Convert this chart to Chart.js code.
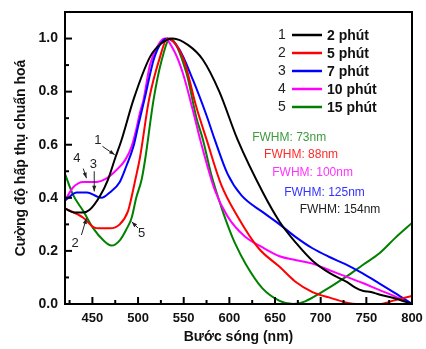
<!DOCTYPE html>
<html>
<head>
<meta charset="utf-8">
<script src="https://cdn.jsdelivr.net/npm/chart.js@4.4.1/dist/chart.umd.min.js"></script>
<style>
  html, body { margin: 0; padding: 0; background: #fff; }
  #wrap { width: 426px; height: 349px; }
</style>
</head>
<body>
<div id="wrap"><canvas id="chart"></canvas></div>
<script>
// series data (wavelength nm, normalised absorbance)
const wl1  = [420, 430, 440, 447, 458, 467, 475, 482, 495, 513, 525, 538, 555, 571, 589, 609, 637, 655, 673, 691, 710, 728, 738, 746, 755, 764, 782, 800];
const abs1 = [0.36, 0.345, 0.345, 0.355, 0.405, 0.468, 0.55, 0.619, 0.77, 0.93, 0.98, 1.0, 0.975, 0.92, 0.80, 0.619, 0.418, 0.31, 0.23, 0.163, 0.116, 0.084, 0.062, 0.05, 0.045, 0.036, 0.021, 0.0];

const wl2  = [420, 440, 451, 458, 469, 480, 489, 494, 497, 502, 512, 524, 532, 550, 564, 575, 591, 609, 632, 655, 672, 691, 709, 739, 764, 782, 800];
const abs2 = [0.36, 0.325, 0.29, 0.285, 0.285, 0.30, 0.35, 0.42, 0.468, 0.55, 0.77, 0.93, 1.0, 0.92, 0.74, 0.62, 0.45, 0.33, 0.21, 0.14, 0.085, 0.045, 0.025, 0.0, 0.0, 0.015, 0.03];

const wl3  = [420, 433, 444, 455, 460, 469, 480, 487, 495, 500, 507, 518, 532, 545, 560, 575, 584, 598, 613, 637, 655, 672, 691, 709, 727, 746, 764, 782, 800];
const abs3 = [0.39, 0.42, 0.42, 0.405, 0.40, 0.42, 0.46, 0.518, 0.594, 0.669, 0.77, 0.93, 1.0, 0.96, 0.845, 0.71, 0.619, 0.49, 0.41, 0.345, 0.30, 0.254, 0.21, 0.178, 0.15, 0.115, 0.078, 0.04, 0.0];

const wl4  = [420, 429, 440, 455, 464, 475, 486, 493, 498, 502, 506, 513, 522, 529, 540, 549, 560, 568, 584, 598, 617, 635, 655, 672, 691, 709, 728, 746, 764, 782, 800];
const abs4 = [0.39, 0.44, 0.46, 0.46, 0.47, 0.50, 0.543, 0.594, 0.657, 0.72, 0.77, 0.90, 0.975, 1.0, 0.95, 0.87, 0.73, 0.62, 0.43, 0.33, 0.254, 0.216, 0.18, 0.166, 0.152, 0.128, 0.103, 0.079, 0.053, 0.028, 0.0];

const wl5  = [420, 429, 440, 451, 462, 471, 480, 487, 493, 498, 504, 508, 517, 526, 535, 553, 564, 571, 580, 591, 600, 606, 618, 636, 655, 670, 683, 699, 728, 746, 764, 782, 800];
const abs5 = [0.49, 0.41, 0.35, 0.285, 0.24, 0.22, 0.24, 0.28, 0.325, 0.40, 0.47, 0.55, 0.77, 0.92, 1.0, 0.87, 0.70, 0.62, 0.49, 0.367, 0.28, 0.23, 0.15, 0.06, 0.012, 0.0, 0.01, 0.04, 0.103, 0.147, 0.19, 0.25, 0.305];

const seriesNames = ['2 phút', '5 phút', '7 phút', '10 phút', '15 phút'];
const seriesNums = ['1', '2', '3', '4', '5'];
const seriesColors = ['#000000', '#ff0000', '#0000ff', '#ff00ff', '#008000'];

const xTicks = [450, 500, 550, 600, 650, 700, 750, 800];
const yTicks = [0.0, 0.2, 0.4, 0.6, 0.8, 1.0];

// FWHM notes: text, x (nm), y (abs), colour
const fwhmTexts = ['FWHM: 73nm', 'FWHM: 88nm', 'FWHM: 100nm', 'FWHM: 125nm', 'FWHM: 154nm'];
const fwhmX = [625, 638, 647, 660, 677];
const fwhmY = [0.628, 0.562, 0.494, 0.418, 0.357];
const fwhmColors = ['#3d9a3d', '#ff2a2a', '#ff33ff', '#3333ff', '#222222'];

// curve markers: label pos and arrow from/to, in data units
const markLabel = ['1', '4', '3', '2', '5'];
const markPos = [[456, 0.615], [433, 0.55], [451, 0.525], [431, 0.229], [504, 0.267]];
const markFrom = [[461, 0.594], [440, 0.51], [452, 0.50], [438, 0.26], [500, 0.286]];
const markTo = [[474.5, 0.562], [443.5, 0.474], [452, 0.424], [443.5, 0.323], [493, 0.31]];

const allWl = [wl1, wl2, wl3, wl4, wl5];
const allAbs = [abs1, abs2, abs3, abs4, abs5];

const datasets = seriesNames.map((name, i) => ({
    label: name,
    data: allWl[i].map((x, k) => ({ x: x, y: allAbs[i][k] })),
    borderColor: seriesColors[i],
    borderWidth: 2,
    pointRadius: 0,
    fill: false,
    cubicInterpolationMode: 'monotone'
}));

function arrow(ctx, x1, y1, x2, y2) {
    const a = Math.atan2(y2 - y1, x2 - x1);
    ctx.beginPath();
    ctx.moveTo(x1, y1);
    ctx.lineTo(x2, y2);
    ctx.stroke();
    ctx.beginPath();
    ctx.moveTo(x2, y2);
    ctx.lineTo(x2 - 6 * Math.cos(a - 0.35), y2 - 6 * Math.sin(a - 0.35));
    ctx.lineTo(x2 - 6 * Math.cos(a + 0.35), y2 - 6 * Math.sin(a + 0.35));
    ctx.closePath();
    ctx.fill();
}

const decor = {
    id: 'decor',
    afterDatasetsDraw(chart) {
        const ctx = chart.ctx;
        const area = chart.chartArea;
        const xs = chart.scales.x, ys = chart.scales.y;
        ctx.save();

        // frame
        ctx.strokeStyle = '#000';
        ctx.lineWidth = 2;
        ctx.strokeRect(area.left, area.top, area.right - area.left, area.bottom - area.top);

        // inward ticks, bottom and left
        ctx.lineWidth = 2;
        for (let v = 425; v < 800; v += 25) {
            const px = xs.getPixelForValue(v);
            const len = (v % 50 === 0) ? 7 : 4;
            ctx.beginPath();
            ctx.moveTo(px, area.bottom);
            ctx.lineTo(px, area.bottom - len);
            ctx.stroke();
        }
        for (let k = 1; k <= 10; k++) {
            const py = ys.getPixelForValue(k / 10);
            const len = (k % 2 === 0) ? 7 : 4;
            ctx.beginPath();
            ctx.moveTo(area.left, py);
            ctx.lineTo(area.left + len, py);
            ctx.stroke();
        }

        // legend
        ctx.textBaseline = 'middle';
        seriesNames.forEach((name, i) => {
            const y = area.top + 23 + i * 18;
            ctx.font = '14px "Liberation Sans", Arial, sans-serif';
            ctx.fillStyle = '#222';
            ctx.textAlign = 'center';
            ctx.fillText(seriesNums[i], area.left + 217, y);
            ctx.strokeStyle = seriesColors[i];
            ctx.lineWidth = 2.5;
            ctx.beginPath();
            ctx.moveTo(area.left + 227, y);
            ctx.lineTo(area.left + 257, y);
            ctx.stroke();
            ctx.font = 'bold 14px "Liberation Sans", Arial, sans-serif';
            ctx.fillStyle = '#111';
            ctx.textAlign = 'left';
            ctx.fillText(name, area.left + 262, y + 1);
        });

        // FWHM notes
        ctx.font = '12px "Liberation Sans", Arial, sans-serif';
        ctx.textAlign = 'left';
        fwhmTexts.forEach((t, i) => {
            ctx.fillStyle = fwhmColors[i];
            ctx.fillText(t, xs.getPixelForValue(fwhmX[i]), ys.getPixelForValue(fwhmY[i]));
        });

        // curve markers
        ctx.font = '13px "Liberation Sans", Arial, sans-serif';
        ctx.textAlign = 'center';
        ctx.fillStyle = '#222';
        ctx.strokeStyle = '#222';
        ctx.lineWidth = 1;
        markLabel.forEach((t, i) => {
            ctx.fillText(t, xs.getPixelForValue(markPos[i][0]), ys.getPixelForValue(markPos[i][1]));
            arrow(ctx,
                xs.getPixelForValue(markFrom[i][0]), ys.getPixelForValue(markFrom[i][1]),
                xs.getPixelForValue(markTo[i][0]), ys.getPixelForValue(markTo[i][1]));
        });

        ctx.restore();
    }
};

const xTickFont = { family: '"Liberation Sans", Arial, sans-serif', size: 13, weight: 'bold' };
const yTickFont = { family: '"Liberation Sans", Arial, sans-serif', size: 14, weight: 'bold' };
const titleFont = { family: '"Liberation Sans", Arial, sans-serif', size: 14, weight: 'bold' };

new Chart(document.getElementById('chart'), {
    type: 'line',
    data: { datasets: datasets },
    options: {
        responsive: true,
        maintainAspectRatio: false,
        animation: false,
        layout: { padding: 0 },
        plugins: {
            legend: { display: false },
            tooltip: { enabled: false }
        },
        scales: {
            x: {
                type: 'linear',
                min: 420,
                max: 800,
                afterBuildTicks: (s) => { s.ticks = xTicks.map(v => ({ value: v })); },
                afterFit: (s) => { s.height = 45; s.paddingLeft = 0; s.paddingRight = 14; },
                grid: { display: false, drawTicks: false },
                border: { display: true, color: '#000', width: 2 },
                ticks: { color: '#111', font: xTickFont, padding: 7, maxRotation: 0 },
                title: { display: true, text: 'Bước sóng (nm)', color: '#111', font: titleFont, padding: { top: 0, bottom: 3 } }
            },
            y: {
                min: 0,
                max: 1.1,
                afterBuildTicks: (s) => { s.ticks = yTicks.map(v => ({ value: v })); },
                afterFit: (s) => { s.width = 65; s.paddingTop = 12; s.paddingBottom = 0; },
                grid: { display: false, drawTicks: false },
                border: { display: true, color: '#000', width: 2 },
                ticks: { color: '#111', font: yTickFont, padding: 7, callback: (v) => v.toFixed(1) },
                title: { display: true, text: 'Cường độ hấp thụ chuẩn hoá', color: '#111', font: titleFont, padding: { top: 13, bottom: 0 } }
            }
        }
    },
    plugins: [decor]
});
</script>
</body>
</html>
